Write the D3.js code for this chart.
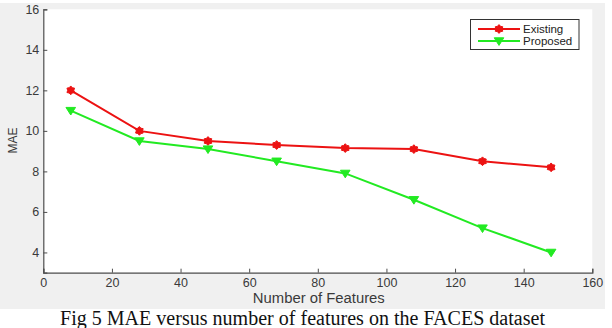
<!DOCTYPE html>
<html><head><meta charset="utf-8">
<script src="https://cdn.jsdelivr.net/npm/d3@7"></script>
<style>body{margin:0;background:#fff}svg{display:block}</style>
</head><body>
<svg id="c" width="612" height="328"></svg>
<script>
const features = [8, 28, 48, 68, 88, 108, 128, 148];
const existing = [12, 10, 9.5, 9.3, 9.15, 9.1, 8.5, 8.2];
const proposed = [11, 9.5, 9.1, 8.5, 7.9, 6.6, 5.2, 4.0];
const xTicks = [0, 20, 40, 60, 80, 100, 120, 140, 160];
const yTicks = [4, 6, 8, 10, 12, 14, 16];
const seriesNames = ["Existing", "Proposed"];

const svg = d3.select("#c");
const L = 43.3, R = 592.3, T = 9.3, B = 272.7;
const x = d3.scaleLinear().domain([0, 160]).range([L, R]);
const y = d3.scaleLinear().domain([3, 16]).range([B, T]);

svg.append("rect").attr("x", 0).attr("y", 3).attr("width", 605).attr("height", 306).attr("fill", "#f0f0f0");
svg.append("rect").attr("x", L).attr("y", T).attr("width", R - L).attr("height", B - T).attr("fill", "#fff");

const font = "Arial, 'Liberation Sans', sans-serif";
const axisCol = "#4d4d4d";

const xa = svg.append("g").attr("transform", `translate(0,${B})`)
  .call(d3.axisBottom(x).tickValues(xTicks).tickSize(-4).tickPadding(5.5).tickFormat(d3.format("d")));
const ya = svg.append("g").attr("transform", `translate(${L},0)`)
  .call(d3.axisLeft(y).tickValues(yTicks).tickSize(-4).tickPadding(4).tickFormat(d3.format("d")));
[xa, ya].forEach(g => {
  g.select(".domain").attr("stroke", axisCol).attr("stroke-width", 1.2);
  g.selectAll(".tick line").attr("stroke", axisCol);
  g.selectAll("text").attr("fill", "#3a3a3a").style("font-family", font).style("font-size", "12.5px");
});

svg.append("text").attr("x", (L + R) / 2 + 1).attr("y", 302.5).attr("text-anchor", "middle")
  .attr("fill", "#3a3a3a").style("font-family", font).style("font-size", "14px")
  .attr("textLength", 132).attr("lengthAdjust", "spacingAndGlyphs").text("Number of Features");
svg.append("text").attr("transform", `translate(17,140.5) rotate(-90)`).attr("text-anchor", "middle")
  .attr("fill", "#3a3a3a").style("font-family", font).style("font-size", "12px").text("MAE");

const red = "#ec1212", green = "#22ea22";
const line = d3.line().x((d, i) => x(features[i])).y(d => y(d));
const hexagram = {
  draw(ctx, size) {
    const r = Math.sqrt(size) * 0.62, ri = r * 0.7;
    for (let i = 0; i < 12; i++) {
      const a = -Math.PI / 2 + i * Math.PI / 6;
      const rr = i % 2 ? ri : r;
      if (i === 0) ctx.moveTo(rr * Math.cos(a), rr * Math.sin(a));
      else ctx.lineTo(rr * Math.cos(a), rr * Math.sin(a));
    }
    ctx.closePath();
  }
};
const triDown = {
  draw(ctx, size) {
    const s = Math.sqrt(size);
    ctx.moveTo(-s * 0.6, -s * 0.4);
    ctx.lineTo(s * 0.6, -s * 0.4);
    ctx.lineTo(0, s * 0.55);
    ctx.closePath();
  }
};

function drawSeries(vals, color, sym, size) {
  svg.append("path").datum(vals).attr("d", line).attr("fill", "none")
    .attr("stroke", color).attr("stroke-width", 2);
  svg.append("g").selectAll("path").data(vals).join("path")
    .attr("transform", (d, i) => `translate(${x(features[i])},${y(d)})`)
    .attr("d", d3.symbol().type(sym).size(size))
    .attr("fill", color).attr("stroke", color).attr("stroke-width", 1);
}
drawSeries(existing, red, hexagram, 50);
drawSeries(proposed, green, triDown, 64);

// legend
const lg = svg.append("g");
lg.append("rect").attr("x", 470.5).attr("y", 19.5).attr("width", 108.5).attr("height", 30)
  .attr("fill", "#fff").attr("stroke", "#333").attr("stroke-width", 1);
[[seriesNames[0], red, hexagram, 29, 50], [seriesNames[1], green, triDown, 41, 64]].forEach(([n, c, s, yy, sz]) => {
  lg.append("line").attr("x1", 478).attr("x2", 520).attr("y1", yy).attr("y2", yy).attr("stroke", c).attr("stroke-width", 2);
  lg.append("path").attr("transform", `translate(499,${yy})`).attr("d", d3.symbol().type(s).size(sz)).attr("fill", c).attr("stroke", c);
  lg.append("text").attr("x", 523).attr("y", yy + 4).attr("fill", "#222").style("font-family", font).style("font-size", "11.5px").text(n);
});

svg.append("text").attr("x", 60).attr("y", 325).attr("textLength", 485).attr("lengthAdjust", "spacingAndGlyphs")
  .attr("fill", "#111").style("font-family", "'Liberation Serif', 'DejaVu Serif', serif").style("font-size", "20px")
  .text("Fig 5 MAE versus number of features on the FACES dataset");
</script>
</body></html>
